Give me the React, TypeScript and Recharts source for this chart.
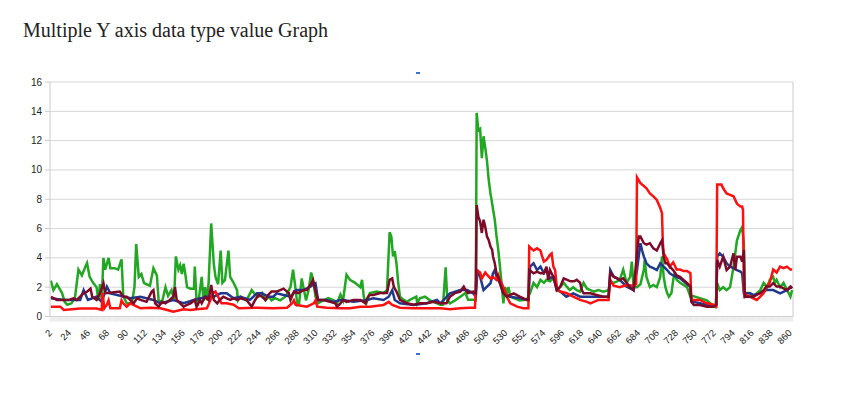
import { LineChart, Line, XAxis, YAxis, CartesianGrid, ReferenceLine } from "recharts";

// sample index -> value
const green: [number, number][] = [
  [2, 2.45], [5, 1.8], [9, 2.2], [13, 1.8], [15, 1.6], [18, 1.0], [21, 0.8], [26, 0.9], [30, 1.3], [34, 3.2],
  [38, 2.8], [42, 3.4], [44, 3.65], [47, 2.7], [51, 2.3], [55, 2.0], [57, 1.1], [59, 2.2], [61, 1.1], [63, 4.0],
  [65, 3.2], [69, 4.0], [71, 3.3], [76, 3.3], [80, 3.2], [84, 3.9], [86, 1.4], [90, 0.9], [96, 0.9], [99, 2.0],
  [101, 4.95], [104, 2.7], [107, 2.9], [110, 2.3], [113, 2.2], [117, 2.1], [121, 3.3], [125, 2.8], [127, 1.1],
  [131, 1.0], [135, 2.0], [138, 1.4], [142, 1.8], [145, 1.2], [147, 4.1], [150, 3.2], [152, 3.5], [154, 2.9],
  [156, 3.6], [158, 2.9], [160, 2.0], [164, 1.9], [168, 1.9], [169, 3.4], [171, 1.1], [173, 0.9], [177, 2.7],
  [179, 1.1], [181, 2.0], [183, 1.1], [185, 2.3], [188, 6.35], [191, 3.6], [193, 2.7], [196, 2.2], [199, 4.5],
  [201, 2.3], [204, 2.5], [208, 4.5], [210, 2.7], [214, 2.3], [218, 1.8], [219, 1.1], [222, 1.35], [229, 1.1],
  [235, 1.8], [239, 1.5], [243, 1.35], [247, 1.6], [251, 1.1], [255, 1.35], [258, 1.1], [262, 1.25], [268, 1.1],
  [274, 1.35], [280, 2.0], [283, 3.2], [285, 2.3], [288, 0.8], [290, 0.9], [293, 2.6], [295, 2.0], [298, 1.1],
  [301, 1.8], [304, 3.0], [307, 2.3], [309, 1.35], [312, 0.9], [318, 1.1], [324, 1.25], [330, 1.1], [334, 0.9],
  [338, 1.5], [341, 1.1], [345, 2.85], [349, 2.5], [355, 2.3], [361, 2.0], [363, 2.5], [365, 1.35], [368, 0.9],
  [372, 1.6], [380, 1.7], [388, 1.6], [392, 1.8], [395, 5.75], [397, 5.45], [399, 4.1], [401, 4.45], [403, 3.6],
  [405, 2.3], [407, 1.35], [411, 1.15], [415, 1.0], [419, 1.15], [426, 1.35], [427, 0.9], [430, 1.25], [436, 1.35],
  [442, 1.1], [450, 0.9], [454, 0.8], [457, 0.8], [460, 3.35], [462, 1.1], [465, 0.9], [471, 1.1], [477, 1.35],
  [483, 1.6], [486, 1.15], [492, 1.15], [495, 1.1], [496, 13.9], [498, 12.7], [500, 12.8], [502, 10.8],
  [504, 12.3], [506, 11.5], [508, 10.6], [510, 9.3], [512, 8.4], [514, 7.7], [515, 7.3], [517, 6.6], [519, 5.5],
  [521, 4.6], [523, 3.4], [525, 2.2], [527, 0.9], [529, 2.0], [531, 1.6], [533, 2.0], [535, 1.35], [539, 1.25],
  [546, 1.1], [554, 1.15], [558, 1.6], [562, 2.3], [566, 2.0], [570, 2.5], [574, 2.3], [577, 2.5], [581, 2.4],
  [587, 2.7], [589, 1.8], [593, 2.0], [597, 2.3], [601, 2.0], [604, 1.8], [608, 2.0], [612, 1.8], [616, 1.7],
  [620, 2.3], [624, 1.9], [628, 1.8], [632, 1.7], [637, 1.8], [643, 1.7], [649, 1.8], [651, 2.3], [655, 2.3],
  [659, 2.4], [662, 2.5], [666, 3.2], [670, 2.3], [674, 2.7], [676, 3.75], [678, 2.0], [682, 2.0], [686, 2.2],
  [690, 3.2], [691, 3.85], [693, 2.7], [697, 2.0], [701, 2.15], [705, 2.0], [709, 2.7], [711, 4.1], [713, 2.7],
  [715, 2.0], [717, 1.6], [719, 1.35], [722, 1.6], [724, 2.5], [726, 3.0], [728, 2.5], [732, 2.3], [736, 2.15],
  [740, 2.0], [744, 1.35], [747, 1.4], [755, 1.25], [763, 1.1], [767, 0.9], [773, 0.65], [775, 2.3], [778, 1.8],
  [782, 2.0], [786, 1.8], [790, 2.0], [794, 3.4], [798, 5.2], [802, 5.9], [804, 6.1], [806, 5.0], [807, 1.6],
  [809, 1.6], [813, 1.6], [817, 1.35], [821, 1.6], [825, 1.8], [829, 2.3], [833, 2.0], [836, 2.5], [840, 2.7],
  [842, 2.3], [844, 2.5], [848, 2.0], [852, 2.3], [856, 1.8], [858, 1.6], [860, 1.35], [862, 1.8],
];

const navy: [number, number][] = [
  [2, 1.24], [17, 1.13], [36, 1.13], [40, 1.8], [45, 1.13], [55, 1.35], [61, 1.0], [67, 2.04], [71, 1.58],
  [79, 1.47], [94, 1.24], [106, 1.35], [121, 1.13], [129, 0.9], [144, 1.13], [156, 0.9], [168, 1.13], [183, 1.35],
  [191, 1.35], [199, 1.58], [206, 1.58], [214, 1.24], [222, 1.35], [233, 1.13], [241, 1.58], [247, 1.58],
  [254, 1.35], [260, 1.35], [264, 1.58], [272, 1.47], [280, 1.35], [287, 1.8], [295, 1.8], [303, 2.04], [309, 2.27],
  [312, 1.13], [322, 1.13], [330, 1.0], [338, 1.13], [341, 1.13], [353, 1.0], [369, 1.13], [376, 1.24], [388, 1.13],
  [394, 1.35], [398, 1.8], [401, 1.13], [407, 0.9], [423, 0.79], [438, 0.9], [450, 1.13], [454, 0.9], [465, 1.58],
  [477, 1.8], [485, 1.8], [492, 1.58], [495, 1.35], [497, 3.17], [500, 2.72], [504, 1.81], [508, 2.04], [512, 2.27],
  [515, 2.95], [517, 3.17], [519, 2.72], [523, 2.27], [527, 1.58], [535, 1.35], [546, 1.24], [556, 1.13], [558, 3.4],
  [562, 3.63], [566, 3.17], [570, 3.4], [574, 2.95], [577, 3.17], [581, 2.6], [585, 2.72], [589, 1.8], [593, 1.7],
  [600, 1.35], [608, 1.58], [616, 1.35], [624, 1.35], [632, 1.35], [643, 1.35], [649, 1.35], [651, 3.17],
  [655, 2.72], [662, 2.5], [670, 2.04], [678, 1.8], [682, 3.17], [686, 5.0], [688, 4.5], [690, 4.08], [693, 3.63],
  [697, 3.4], [701, 3.3], [705, 3.17], [709, 3.63], [713, 3.4], [717, 3.17], [720, 2.95], [724, 2.8], [728, 2.7],
  [732, 2.6], [736, 2.4], [740, 2.2], [744, 2.04], [745, 1.13], [748, 1.0], [755, 0.9], [763, 0.79], [771, 0.75],
  [774, 0.79], [775, 4.08], [778, 4.31], [782, 4.08], [786, 3.63], [790, 3.4], [794, 3.3], [798, 3.17], [802, 3.06],
  [804, 2.95], [806, 1.58], [813, 1.58], [817, 1.47], [825, 1.58], [832, 1.8], [840, 1.8], [848, 1.58], [856, 1.8],
  [862, 2.04],
];

const red: [number, number][] = [
  [2, 0.67], [13, 0.67], [17, 0.45], [36, 0.55], [55, 0.55], [61, 0.45], [62, 1.6], [64, 0.55], [67, 0.8],
  [69, 1.1], [71, 0.56], [82, 0.56], [84, 1.1], [86, 0.9], [90, 0.67], [94, 0.9], [102, 0.67], [106, 0.56],
  [117, 0.6], [129, 0.56], [137, 0.44], [144, 0.33], [156, 0.5], [164, 0.44], [171, 0.5], [183, 0.56], [187, 1.1],
  [190, 1.6], [193, 1.7], [196, 1.35], [200, 0.9], [206, 0.9], [214, 0.8], [220, 0.56], [241, 0.6], [260, 0.56],
  [276, 0.6], [282, 0.9], [284, 1.1], [286, 0.8], [299, 0.67], [307, 0.9], [309, 1.1], [311, 0.67], [322, 0.6],
  [338, 0.56], [349, 0.56], [361, 0.67], [372, 0.67], [388, 0.79], [394, 1.0], [398, 0.79], [407, 0.6], [423, 0.56],
  [438, 0.56], [454, 0.56], [465, 0.5], [477, 0.56], [488, 0.6], [494, 0.6], [496, 3.17], [500, 3.0], [502, 2.6],
  [506, 3.0], [508, 2.85], [512, 2.6], [515, 2.7], [519, 2.5], [521, 2.83], [523, 2.5], [527, 2.0], [531, 1.35],
  [535, 0.9], [543, 0.67], [550, 0.56], [556, 0.56], [557, 4.77], [562, 4.5], [566, 4.65], [570, 4.5], [572, 4.1],
  [574, 3.75], [577, 3.86], [581, 4.2], [583, 4.3], [585, 3.4], [587, 3.17], [589, 2.0], [591, 1.8], [593, 1.7],
  [600, 1.6], [608, 1.35], [616, 1.13], [624, 1.0], [628, 0.9], [632, 1.0], [637, 1.13], [643, 1.13], [649, 1.13],
  [651, 2.5], [655, 2.1], [662, 2.0], [670, 2.15], [678, 2.1], [681, 2.2], [682, 9.5], [686, 9.1], [690, 8.9],
  [693, 8.75], [697, 8.4], [701, 8.2], [705, 7.95], [709, 7.4], [711, 7.05], [712, 5.0], [713, 4.3], [717, 3.9],
  [720, 3.4], [724, 3.7], [728, 3.2], [732, 3.2], [736, 3.1], [740, 3.1], [744, 2.95], [745, 1.13], [748, 1.13],
  [755, 1.13], [763, 0.9], [771, 0.8], [774, 0.7], [775, 9.0], [780, 9.0], [782, 8.75], [786, 8.4], [790, 8.3],
  [794, 8.2], [798, 7.7], [802, 7.5], [804, 7.5], [805, 7.27], [806, 1.8], [807, 1.35], [809, 1.45], [813, 1.35],
  [817, 1.24], [821, 1.13], [825, 1.35], [829, 1.6], [832, 2.0], [836, 2.3], [840, 3.2], [844, 3.0], [848, 3.4],
  [852, 3.3], [856, 3.4], [860, 3.2], [862, 3.2],
];

const maroon: [number, number][] = [
  [2, 1.35], [5, 1.25], [9, 1.13], [17, 1.13], [24, 1.15], [28, 1.24], [32, 1.13], [36, 1.35], [40, 1.6],
  [44, 1.7], [48, 1.9], [50, 1.35], [55, 1.13], [59, 1.6], [63, 2.27], [65, 1.6], [69, 1.6], [75, 1.65], [82, 1.7],
  [86, 1.35], [90, 1.35], [94, 1.13], [98, 0.9], [102, 1.24], [106, 1.13], [113, 1.0], [119, 1.7], [121, 1.8],
  [123, 0.9], [127, 0.67], [131, 1.0], [135, 0.9], [140, 1.13], [144, 1.35], [146, 2.0], [148, 1.13], [152, 0.9],
  [156, 0.67], [160, 0.79], [164, 0.9], [169, 1.13], [171, 0.67], [175, 1.13], [177, 0.9], [181, 1.35], [185, 1.13],
  [188, 2.15], [191, 1.13], [195, 0.9], [198, 1.13], [202, 1.35], [206, 1.24], [210, 1.13], [214, 1.24], [218, 1.13],
  [222, 1.24], [229, 1.13], [235, 0.67], [239, 1.13], [243, 1.47], [247, 1.35], [251, 1.13], [254, 1.47], [258, 1.7],
  [264, 1.7], [268, 1.8], [272, 1.9], [276, 1.7], [278, 1.6], [280, 1.13], [284, 1.7], [289, 1.6], [295, 1.8],
  [299, 1.8], [303, 2.15], [306, 2.5], [309, 1.7], [312, 1.13], [318, 1.13], [326, 1.0], [332, 0.9], [334, 0.67],
  [338, 0.9], [341, 1.13], [345, 1.0], [353, 1.13], [361, 1.13], [367, 0.9], [370, 1.35], [372, 1.47], [376, 1.47],
  [384, 1.6], [392, 1.6], [395, 2.5], [398, 2.6], [400, 2.0], [403, 1.7], [407, 1.13], [415, 0.9], [423, 0.8],
  [430, 0.9], [438, 0.9], [446, 1.0], [454, 0.9], [461, 0.9], [465, 1.35], [471, 1.6], [477, 1.7], [481, 2.04],
  [483, 1.8], [486, 1.6], [492, 1.7], [495, 1.6], [496, 7.6], [498, 6.8], [500, 6.5], [502, 5.7], [504, 6.6],
  [506, 6.1], [508, 5.45], [510, 5.2], [512, 4.77], [514, 4.54], [515, 4.08], [517, 3.63], [519, 2.95], [521, 2.7],
  [523, 2.27], [527, 1.58], [531, 1.35], [535, 1.47], [539, 1.58], [546, 1.35], [554, 1.13], [556, 1.13], [557, 3.17],
  [562, 2.95], [566, 3.06], [570, 2.95], [574, 2.95], [577, 3.4], [579, 2.5], [581, 3.17], [585, 2.7], [589, 1.8],
  [593, 2.04], [597, 2.6], [601, 2.5], [605, 2.4], [609, 2.4], [612, 2.5], [616, 2.3], [618, 1.8], [620, 1.58],
  [628, 1.58], [635, 1.47], [643, 1.35], [649, 1.35], [651, 3.0], [655, 2.7], [659, 2.6], [662, 2.5], [666, 2.6],
  [670, 2.3], [674, 2.0], [678, 1.8], [682, 4.3], [684, 5.45], [686, 5.45], [690, 5.0], [693, 4.9], [697, 5.0],
  [701, 4.65], [705, 4.5], [709, 5.0], [711, 5.2], [713, 4.08], [715, 3.63], [717, 3.63], [720, 3.4], [724, 3.17],
  [728, 2.8], [732, 2.7], [736, 2.5], [740, 2.3], [744, 2.04], [745, 1.0], [748, 0.79], [755, 0.79], [763, 0.67],
  [771, 0.67], [774, 0.79], [775, 3.86], [778, 3.4], [782, 4.08], [786, 3.17], [790, 3.4], [794, 4.31], [796, 3.17],
  [798, 4.08], [802, 4.08], [804, 3.74], [806, 4.54], [807, 1.35], [809, 1.35], [815, 1.35], [817, 1.35], [825, 1.6],
  [829, 1.8], [832, 2.04], [836, 2.04], [840, 2.27], [844, 2.04], [848, 2.04], [852, 1.92], [856, 1.8], [860, 2.04],
  [862, 1.92],
];

const xLabels = [
  2, 24, 46, 68, 90, 112, 134, 156, 178, 200, 222, 244, 266, 288, 310, 332, 354, 376, 398, 420,
  442, 464, 486, 508, 530, 552, 574, 596, 618, 640, 662, 684, 706, 728, 750, 772, 794, 816, 838, 860,
];
const yTicks = [0, 2, 4, 6, 8, 10, 12, 14, 16];

const X_MIN = 1;
const X_MAX = 863;
// one tick mark per category, only some of them get a label
const allTicks = Array.from({ length: X_MAX - X_MIN + 1 }, (_, i) => X_MIN + i);
const labelSet = new Set(xLabels);

const toPoints = (pts: [number, number][]) => pts.map(([x, v]) => ({ x, v }));

const series = [
  { name: "green", data: toPoints(green), color: "#22a722" },
  { name: "navy", data: toPoints(navy), color: "#1f3a8c" },
  { name: "red", data: toPoints(red), color: "#ff1010" },
  { name: "maroon", data: toPoints(maroon), color: "#7d0a28" },
];

const font = "'Liberation Sans', Arial, sans-serif";

function XTick(props: any) {
  const { x, y, payload } = props;
  if (!labelSet.has(payload.value)) return <g />;
  const ax = x + 2;
  const ay = y + 12;
  return (
    <text
      x={ax}
      y={ay}
      transform={`rotate(-45 ${ax} ${ay})`}
      textAnchor="end"
      fontSize={9.5}
      fontFamily={font}
      fill="#222"
    >
      {payload.value}
    </text>
  );
}

export default function App() {
  return (
    <div style={{ position: "absolute", left: 0, top: 0, width: 851, height: 398, background: "#fff" }}>
      <div
        style={{
          position: "absolute",
          left: 23,
          top: 20,
          fontFamily: "'Liberation Serif', 'Times New Roman', serif",
          fontSize: 20,
          lineHeight: "20px",
          color: "#222",
          whiteSpace: "nowrap",
        }}
      >
        Multiple Y axis data type value Graph
      </div>
      {/* leftover legend marks */}
      <div style={{ position: "absolute", left: 416, top: 72, width: 4, height: 2, background: "#3d6fd6" }} />
      <div style={{ position: "absolute", left: 416, top: 353, width: 4, height: 2, background: "#3d6fd6" }} />

      <LineChart
        width={851}
        height={398}
        margin={{ top: 82, right: 58, bottom: 51.5, left: 0 }}
        style={{ position: "absolute", left: 0, top: 0 }}
      >
        <CartesianGrid vertical={false} stroke="#d6d6d6" />
        <XAxis
          dataKey="x"
          type="number"
          domain={[X_MIN, X_MAX]}
          ticks={allTicks}
          interval={0}
          height={30}
          tickSize={5}
          tickMargin={0}
          tick={<XTick />}
          tickLine={{ stroke: "#e2e2e2", strokeWidth: 0.6 }}
          axisLine={{ stroke: "#cccccc" }}
          allowDuplicatedCategory={false}
        />
        <YAxis
          type="number"
          domain={[0, 16]}
          ticks={yTicks}
          width={50}
          tickSize={5}
          tickMargin={3}
          tick={{ fontSize: 10, fill: "#222", fontFamily: font }}
          tickLine={{ stroke: "#cccccc" }}
          axisLine={{ stroke: "#cccccc" }}
        />
        <ReferenceLine x={X_MAX} stroke="#cccccc" />
        {series.map((s) => (
          <Line
            key={s.name}
            data={s.data}
            dataKey="v"
            type="linear"
            stroke={s.color}
            strokeWidth={2.5}
            dot={false}
            activeDot={false}
            isAnimationActive={false}
          />
        ))}
      </LineChart>
    </div>
  );
}
